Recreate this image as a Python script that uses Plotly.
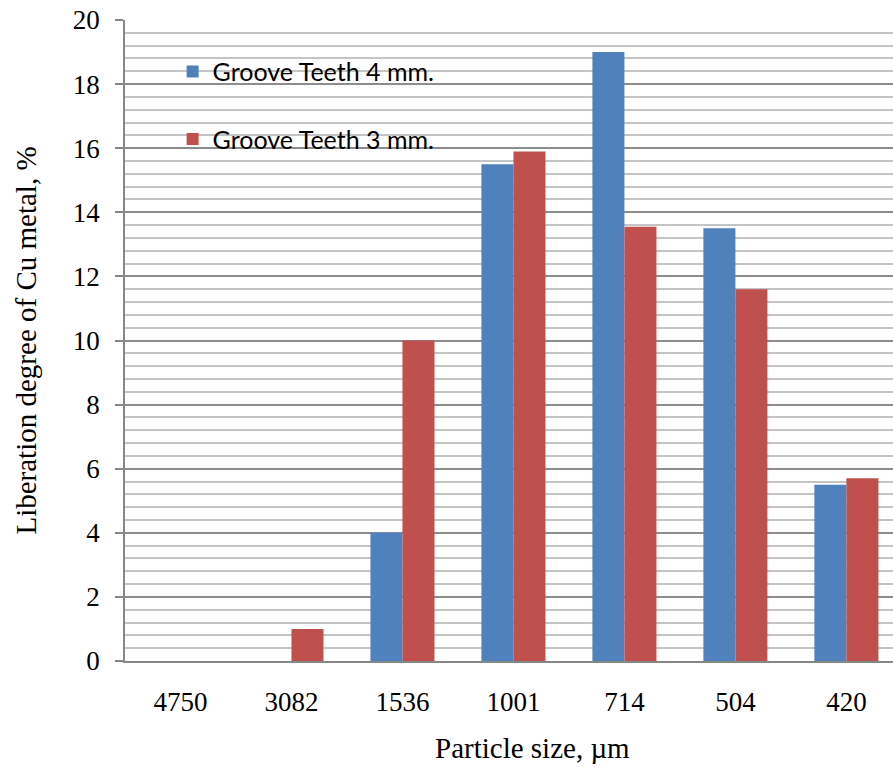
import plotly.graph_objects as go

# Particle size classes (µm) and liberation degree of Cu metal (%)
sizes = ["4750", "3082", "1536", "1001", "714", "504", "420"]
teeth_4mm = [0, 0, 4.0, 15.5, 19.0, 13.5, 5.5]
teeth_3mm = [0, 1.0, 10.0, 15.9, 13.55, 11.6, 5.7]
series_names = ["Groove Teeth 4 mm.", "Groove Teeth 3 mm."]
x_title = "Particle size, µm"
y_title = "Liberation degree of Cu metal, %"

BLUE = "#4F81BD"
RED = "#C0504D"

fig = go.Figure()
fig.add_trace(go.Bar(x=sizes, y=teeth_4mm, name=series_names[0],
                     marker=dict(color=BLUE, line=dict(width=0)),
                     legendgroup="a"))
fig.add_trace(go.Bar(x=sizes, y=teeth_3mm, name=series_names[1],
                     marker=dict(color=RED, line=dict(width=0)),
                     legendgroup="b"))

serif = "Liberation Serif"

fig.update_layout(
    width=893, height=768,
    margin=dict(l=125, r=0, t=20, b=107),
    paper_bgcolor="white", plot_bgcolor="white",
    barmode="group", bargap=0.423, bargroupgap=0,
    showlegend=True,
    legend=dict(
        x=0.062, y=0.955, xanchor="left", yanchor="top",
        bgcolor="rgba(0,0,0,0)", borderwidth=0,
        font=dict(family="Lato", size=25, color="black"),
        tracegroupgap=32, itemwidth=30,
    ),
    xaxis=dict(
        type="category", range=[-0.5, 6.42],
        showline=True, linecolor="#868686", linewidth=1.5,
        ticks="", showgrid=False, ticklabelstandoff=16,
        tickfont=dict(family=serif, size=27, color="black"),
    ),
    yaxis=dict(
        range=[0, 20], dtick=2, tick0=0,
        showline=True, linecolor="#868686", linewidth=1.5,
        ticks="outside", ticklen=8, tickcolor="#868686", tickwidth=1.5,
        ticklabelstandoff=10,
        showgrid=True, gridcolor="#8c8c8c", gridwidth=1.5,
        zeroline=False,
        minor=dict(dtick=0.4, tick0=0, showgrid=True,
                   gridcolor="#c4c4c4", gridwidth=1.5, ticks=""),
        tickfont=dict(family=serif, size=27, color="black"),
        title=dict(text=y_title,
                   font=dict(family=serif, size=29, color="black"),
                   standoff=28),
    ),
    # x-axis title, centred under the full category span
    annotations=[dict(text=x_title, xref="paper", yref="paper",
                      x=0.53, y=-0.1357, xanchor="center", yanchor="middle",
                      showarrow=False,
                      font=dict(family=serif, size=29, color="black"))],
    # white panel behind the legend entries, drawn over the gridlines
    shapes=[dict(type="rect", xref="paper", yref="paper", layer="between",
                 x0=0.0155, x1=0.466, y0=0.743, y1=0.977,
                 fillcolor="white", line=dict(width=0))],
)

fig.write_html("out.html")
